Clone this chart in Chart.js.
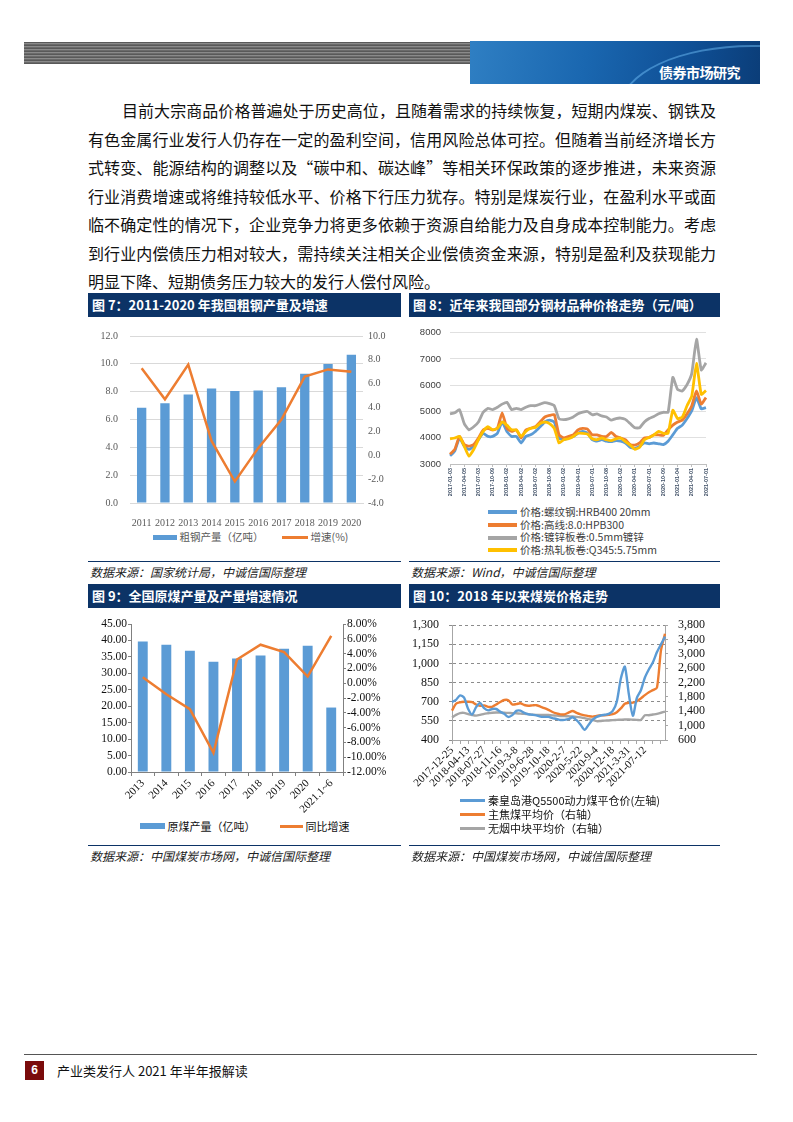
<!DOCTYPE html>
<html lang="zh-CN">
<head>
<meta charset="utf-8">
<title>产业类发行人2021年半年报解读</title>
<script src="https://cdn.jsdelivr.net/npm/chart.js@4.4.1/dist/chart.umd.min.js"></script>
<style>
  html, body { margin: 0; padding: 0; background: #fff; }
  body { width: 793px; height: 1122px; position: relative; overflow: hidden;
         font-family: "Noto Sans CJK SC", sans-serif; color: #000; }
  .abs { position: absolute; }

  /* 页眉 */
  .stripes { left: 24px; top: 42px; width: 447px; height: 22px;
    background: repeating-linear-gradient(to bottom, #595959 0, #595959 1px, #8a8a8a 1px, #8a8a8a 2px, #6a6a6a 2px, #6a6a6a 3px); }
  .banner { left: 470px; top: 41px; width: 290px; height: 43px; overflow: hidden;
    background: linear-gradient(100deg, #2f7fc3 0%, #1a67b0 40%, #0f4f95 75%, #0b3d78 100%); }
  .banner .arc { position: absolute; left: 150px; top: 4px; width: 260px; height: 120px;
    border-radius: 50%; border: 2px solid rgba(120, 200, 255, 0.45); }
  .banner .name { position: absolute; right: 20px; top: 22px; color: #fff; font-weight: bold;
    font-size: 14px; line-height: 18px; letter-spacing: -0.5px; }

  /* 正文 */
  .para { left: 88px; top: 96px; width: 628px; font-size: 16px; line-height: 28.5px; color: #111; }
  .para .ln { text-align: justify; text-align-last: justify; }
  .para .first { margin-left: 34px; }
  .para .last { text-align-last: left; }

  /* 图表面板 */
  .ttl { height: 24px; background: #0c3366; color: #fff; font-weight: bold; font-size: 13px;
    line-height: 24px; padding-left: 4px; box-sizing: border-box; white-space: nowrap; }
  .rule { height: 0; border-top: 1.5px solid #0c3366; }
  .src { font-size: 12px; line-height: 16px; font-style: italic; color: #222; padding-left: 2px; }
  .legend-row { display: flex; justify-content: center; align-items: center; font-size: 10.5px;
    line-height: 16px; white-space: nowrap; }
  .legend-row .item { display: flex; align-items: center; }
  .legend-col { font-size: 10.5px; white-space: nowrap; color: #404040; }
  .legend-col .item { display: flex; align-items: center; }
  .sw { display: inline-block; flex: none; }

  /* 页脚 */
  .footline { left: 24px; top: 1054px; width: 733px; border-top: 1px solid #555; }
  .pageno { left: 25px; top: 1061px; width: 19px; height: 19px; background: #7a0b0b; color: #fff;
    font-weight: bold; font-size: 12px; line-height: 19px; text-align: center; font-family: "Liberation Sans", sans-serif; }
  .foottxt { left: 57px; top: 1062px; font-size: 13px; line-height: 18px; color: #111; }
</style>
</head>
<body>

<div class="abs stripes"></div>
<div class="abs banner"><div class="arc"></div><div class="name">债券市场研究</div></div>

<div class="abs para">
  <div class="ln first">目前大宗商品价格普遍处于历史高位，且随着需求的持续恢复，短期内煤炭、钢铁及</div>
  <div class="ln">有色金属行业发行人仍存在一定的盈利空间，信用风险总体可控。但随着当前经济增长方</div>
  <div class="ln">式转变、能源结构的调整以及“碳中和、碳达峰”等相关环保政策的逐步推进，未来资源</div>
  <div class="ln">行业消费增速或将维持较低水平、价格下行压力犹存。特别是煤炭行业，在盈利水平或面</div>
  <div class="ln">临不确定性的情况下，企业竞争力将更多依赖于资源自给能力及自身成本控制能力。考虑</div>
  <div class="ln">到行业内偿债压力相对较大，需持续关注相关企业偿债资金来源，特别是盈利及获现能力</div>
  <div class="ln last">明显下降、短期债务压力较大的发行人偿付风险。</div>
</div>

<!-- 图7 -->
<div class="abs ttl" style="left:88px; top:293px; width:313px;">图 7：2011-2020 年我国粗钢产量及增速</div>
<div class="abs" style="left:88px; top:318px; width:313px; height:208px;"><canvas id="chart7"></canvas></div>
<div class="abs legend-row" id="legend7" style="left:88px; top:529px; width:313px; padding-left:12px; box-sizing:border-box; color:#595959;"></div>
<div class="abs rule" style="left:88px; top:561px; width:313px;"></div>
<div class="abs src" style="left:88px; top:564px;">数据来源：国家统计局，中诚信国际整理</div>

<!-- 图8 -->
<div class="abs ttl" style="left:409px; top:293px; width:311px;">图 8：近年来我国部分钢材品种价格走势（元/吨）</div>
<div class="abs" style="left:409px; top:318px; width:311px; height:185px;"><canvas id="chart8"></canvas></div>
<div class="abs legend-col" id="legend8" style="left:488px; top:506px; line-height:12.7px;"></div>
<div class="abs rule" style="left:409px; top:561px; width:311px;"></div>
<div class="abs src" style="left:409px; top:564px;">数据来源：Wind，中诚信国际整理</div>

<!-- 图9 -->
<div class="abs ttl" style="left:88px; top:584px; width:313px;">图 9：全国原煤产量及产量增速情况</div>
<div class="abs" style="left:88px; top:608px; width:313px; height:210px;"><canvas id="chart9"></canvas></div>
<div class="abs legend-row" id="legend9" style="left:88px; top:818px; width:313px; color:#111; font-size:11px;"></div>
<div class="abs rule" style="left:88px; top:845px; width:313px;"></div>
<div class="abs src" style="left:88px; top:848px;">数据来源：中国煤炭市场网，中诚信国际整理</div>

<!-- 图10 -->
<div class="abs ttl" style="left:409px; top:584px; width:311px;">图 10：2018 年以来煤炭价格走势</div>
<div class="abs" style="left:409px; top:608px; width:311px; height:190px;"><canvas id="chart10"></canvas></div>
<div class="abs legend-col" id="legend10" style="left:460px; top:793px; line-height:14px; color:#111; font-size:11px;"></div>
<div class="abs rule" style="left:409px; top:845px; width:311px;"></div>
<div class="abs src" style="left:409px; top:848px;">数据来源：中国煤炭市场网，中诚信国际整理</div>

<div class="abs footline"></div>
<div class="abs pageno">6</div>
<div class="abs foottxt">产业类发行人 2021 年半年报解读</div>

<script>
// ---- 图7 数据：粗钢产量及增速 ----
const steelYears = ['2011', '2012', '2013', '2014', '2015', '2016', '2017', '2018', '2019', '2020'];
const steelOutput = [6.85, 7.17, 7.79, 8.23, 8.04, 8.09, 8.32, 9.29, 9.98, 10.65];
const steelGrowth = [7.3, 4.7, 7.6, 1.2, -2.2, 0.6, 3.0, 6.6, 7.2, 7.0];

// ---- 图8 数据：钢材品种价格（月度，2017-01 至 2021-07）----
const steelTickLabels = ['2017-01-03', '2017-04-05', '2017-07-03', '2017-10-09', '2018-01-02', '2018-04-02',
  '2018-07-02', '2018-10-08', '2019-01-02', '2019-04-01', '2019-07-01', '2019-10-08', '2020-01-02',
  '2020-04-01', '2020-07-01', '2020-10-09', '2021-01-04', '2021-04-01', '2021-07-01'];
const rebarPrice = [
  3310, 3490, 3990, 3680, 3555, 3680, 3925, 4170, 4050, 4050, 4170, 4600,
  4240, 4050, 4050, 3800, 4050, 4110, 4240, 4420, 4600, 4670, 4600, 3990,
  3925, 3990, 4050, 4170, 4240, 4170, 3925, 3870, 3925, 3870, 3850, 3890,
  3870, 3800, 3640, 3590, 3680, 3800, 3770, 3800, 3770, 3740, 3870, 4110,
  4360, 4480, 4730, 5030, 5530, 5100, 5150];
const wireRodPrice = [
  3370, 3555, 4050, 3740, 3680, 3740, 3990, 4300, 4360, 4300, 4360, 4950,
  4360, 4240, 4300, 3990, 4300, 4360, 4420, 4600, 4790, 4850, 4880, 4110,
  3990, 4050, 4110, 4300, 4360, 4330, 4110, 4110, 4050, 4050, 4200, 4050,
  3990, 3925, 3740, 3720, 3800, 3990, 4010, 4110, 4110, 4090, 4300, 4480,
  4600, 4670, 4910, 5220, 5780, 5280, 5530];
const galvanizedPrice = [
  4910, 4950, 5070, 4540, 4300, 4420, 4600, 4970, 5120, 5070, 5160, 5280,
  5350, 5070, 5120, 5070, 5160, 5220, 5220, 5280, 5340, 5300, 5220, 4720,
  4690, 4720, 4790, 4910, 4975, 5000, 4875, 4910, 4830, 4790, 4670, 4730,
  4750, 4700, 4540, 4380, 4380, 4600, 4730, 4810, 4910, 4970, 4970, 6300,
  5840, 5780, 6020, 6450, 7750, 6580, 6850];
const hotRolledPrice = [
  3960, 3990, 4050, 3680, 3300, 3555, 3925, 4240, 4420, 4300, 4360, 4600,
  4480, 4300, 4300, 4050, 4240, 4360, 4390, 4540, 4600, 4540, 4360, 3800,
  3925, 3960, 4050, 4170, 4170, 4140, 3960, 3925, 3990, 3925, 3890, 3960,
  3990, 3850, 3720, 3560, 3640, 3925, 4010, 4110, 4240, 4170, 4170, 5050,
  4730, 4790, 5220, 5590, 6830, 5650, 5800];
const steelPriceNames = ['价格:螺纹钢:HRB400 20mm', '价格:高线:8.0:HPB300', '价格:镀锌板卷:0.5mm镀锌', '价格:热轧板卷:Q345:5.75mm'];

// ---- 图9 数据：原煤产量及增速 ----
const coalYears = ['2013', '2014', '2015', '2016', '2017', '2018', '2019', '2020', '2021.1~6'];
const coalOutput = [39.7, 38.7, 36.9, 33.5, 34.5, 35.4, 37.5, 38.4, 19.6];
const coalGrowth = [0.8, -1.5, -3.5, -9.4, 3.2, 5.2, 4.2, 0.9, 6.4];

// ---- 图10 数据：煤炭价格（约每4周一个点）----
const coalTickDates = ['2017-12-25', '2018-04-13', '2018-07-27', '2018-11-16', '2019-3-8', '2019-6-28',
  '2019-10-18', '2020-2-7', '2020-5-22', '2020-9-4', '2020-12-18', '2021-3-31', '2021-07-12'];
const qhdPrice = [
  697, 715, 750, 732, 645, 600, 658, 690, 650, 632, 643, 643, 622, 605, 581, 595, 628, 630,
  612, 602, 598, 593, 583, 581, 581, 572, 566, 557, 558, 563, 578, 555, 520, 480, 520, 560,
  581, 592, 598, 605, 628, 700, 880, 975, 760, 590, 730, 790, 890, 955, 1010, 1089, 1150, 1210];
const cokingCoalPrice = [
  1420, 1610, 1650, 1665, 1665, 1655, 1590, 1552, 1565, 1525, 1525, 1590, 1660, 1715, 1710, 1590, 1600, 1623,
  1575, 1555, 1565, 1570, 1530, 1490, 1440, 1380, 1340, 1314, 1314, 1365, 1410, 1358, 1315, 1285, 1265, 1252,
  1270, 1288, 1288, 1300, 1320, 1376, 1480, 1610, 1640, 1640, 1680, 1760, 1850, 1930, 1990, 2060, 3100, 3560];
const anthracitePrice = [
  1230, 1300, 1350, 1355, 1320, 1295, 1280, 1300, 1330, 1345, 1360, 1365, 1365, 1360, 1355, 1350, 1345, 1335,
  1330, 1320, 1305, 1300, 1300, 1300, 1295, 1285, 1280, 1270, 1265, 1260, 1255, 1245, 1230, 1210, 1180, 1160,
  1125, 1130, 1140, 1145, 1155, 1160, 1165, 1170, 1170, 1165, 1160, 1160, 1290, 1290, 1310, 1330, 1360, 1390];
const coalPriceNames = ['秦皇岛港Q5500动力煤平仓价(左轴)', '主焦煤平均价（右轴）', '无烟中块平均价（右轴）'];

// 颜色
const BLUE = '#5b9bd5', ORANGE = '#ed7d31', GRAY = '#a5a5a5', YELLOW = '#ffc000';
const SERIF = '"Liberation Serif", "Noto Sans CJK SC", serif';
const SANS = '"Liberation Sans", "Noto Sans CJK SC", sans-serif';

Chart.defaults.animation = false;
Chart.defaults.responsive = true;
Chart.defaults.maintainAspectRatio = false;
Chart.defaults.plugins.legend.display = false;
Chart.defaults.plugins.tooltip.enabled = false;

// 生成 HTML 图例
function buildLegend(id, items, gap) {
  const box = document.getElementById(id);
  items.forEach((it, i) => {
    const item = document.createElement('div');
    item.className = 'item';
    if (gap && i > 0) item.style.marginLeft = gap + 'px';
    const sw = document.createElement('span');
    sw.className = 'sw';
    sw.style.width = it.w + 'px';
    sw.style.height = it.h + 'px';
    sw.style.background = it.color;
    sw.style.marginRight = '3px';
    const tx = document.createElement('span');
    tx.textContent = it.text;
    item.appendChild(sw);
    item.appendChild(tx);
    box.appendChild(item);
  });
}

// ---------- 图7 ----------
new Chart(document.getElementById('chart7'), {
  data: {
    labels: steelYears,
    datasets: [
      { type: 'bar', label: '粗钢产量（亿吨）', data: steelOutput, backgroundColor: BLUE,
        yAxisID: 'y', barPercentage: 0.4, categoryPercentage: 1, order: 1 },
      { type: 'line', label: '增速(%)', data: steelGrowth, borderColor: ORANGE, borderWidth: 2.5,
        pointRadius: 0, yAxisID: 'y1', order: 0 }
    ]
  },
  options: {
    layout: { padding: { top: 14, left: 0, right: 0, bottom: 0 } },
    scales: {
      x: { offset: true, grid: { display: false }, border: { color: '#d9d9d9' },
        ticks: { font: { family: SERIF, size: 10 }, color: '#595959', padding: 6, maxRotation: 0, autoSkip: false },
        afterFit: s => { s.height = 23; } },
      y: { position: 'left', min: 0, max: 12,
        ticks: { stepSize: 2, autoSkip: false, callback: v => v.toFixed(1), padding: 12, font: { family: SERIF, size: 10 }, color: '#595959' },
        grid: { color: '#d9d9d9', drawTicks: false }, border: { display: false },
        afterFit: s => { s.width = 42; } },
      y1: { position: 'right', min: -4, max: 10,
        ticks: { stepSize: 2, autoSkip: false, callback: v => v.toFixed(1), padding: 5, font: { family: SERIF, size: 10 }, color: '#595959' },
        grid: { display: false, drawTicks: false }, border: { display: false },
        afterFit: s => { s.width = 38; } }
    }
  }
});
buildLegend('legend7', [
  { text: '粗钢产量（亿吨）', color: BLUE, w: 24, h: 5 },
  { text: '增速(%)', color: ORANGE, w: 26, h: 3 }
], 18);

// ---------- 图8 ----------
const steelMonths = [];
for (let y = 2017; y <= 2021; y++) {
  for (let m = 1; m <= 12; m++) {
    if (y === 2021 && m > 7) break;
    steelMonths.push(y + '-' + String(m).padStart(2, '0'));
  }
}
new Chart(document.getElementById('chart8'), {
  type: 'line',
  data: {
    labels: steelMonths,
    datasets: [
      { label: steelPriceNames[0], data: rebarPrice, borderColor: BLUE, order: 2 },
      { label: steelPriceNames[1], data: wireRodPrice, borderColor: ORANGE, order: 1 },
      { label: steelPriceNames[2], data: galvanizedPrice, borderColor: GRAY, order: 3 },
      { label: steelPriceNames[3], data: hotRolledPrice, borderColor: YELLOW, order: 0 }
    ].map(d => Object.assign(d, { borderWidth: 2.8, pointRadius: 0, tension: 0.15 }))
  },
  options: {
    layout: { padding: { top: 11, left: 0, right: 14, bottom: 0 } },
    scales: {
      x: { offset: false, border: { color: '#bfbfbf' },
        grid: { drawOnChartArea: false, tickLength: 3, color: c => (c.index % 3 === 0 ? '#bfbfbf' : 'transparent') },
        ticks: { autoSkip: false, minRotation: 90, maxRotation: 90, padding: 1,
          font: { family: SANS, size: 5.5, weight: 'bold' }, color: '#44546a',
          callback: (v, i) => (i % 3 === 0 ? steelTickLabels[i / 3] : '') },
        afterFit: s => { s.height = 39; } },
      y: { min: 3000, max: 8000,
        ticks: { stepSize: 1000, autoSkip: false, padding: 9, font: { family: SANS, size: 9.5 }, color: '#404040',
          callback: v => String(v) },
        grid: { color: '#e0e0e0', drawTicks: false }, border: { display: false },
        afterFit: s => { s.width = 41; } }
    }
  }
});
buildLegend('legend8', [
  { text: steelPriceNames[0], color: BLUE, w: 29, h: 4 },
  { text: steelPriceNames[1], color: ORANGE, w: 29, h: 4 },
  { text: steelPriceNames[2], color: GRAY, w: 29, h: 4 },
  { text: steelPriceNames[3], color: YELLOW, w: 29, h: 4 }
], 0);

// ---------- 图9 ----------
new Chart(document.getElementById('chart9'), {
  data: {
    labels: coalYears,
    datasets: [
      { type: 'bar', label: '原煤产量（亿吨）', data: coalOutput, backgroundColor: BLUE,
        yAxisID: 'y', barPercentage: 0.42, categoryPercentage: 1, order: 1 },
      { type: 'line', label: '同比增速', data: coalGrowth, borderColor: ORANGE, borderWidth: 2.5,
        pointRadius: 0, yAxisID: 'y1', order: 0 }
    ]
  },
  options: {
    layout: { padding: { top: 16, left: 0, right: 0, bottom: 0 } },
    scales: {
      x: { offset: true, border: { color: '#808080' },
        grid: { drawOnChartArea: false, offset: true, tickLength: 4, color: '#808080' },
        ticks: { autoSkip: false, minRotation: 45, maxRotation: 45, padding: 1,
          font: { family: SERIF, size: 11 }, color: '#111' },
        afterFit: s => { s.height = 46; } },
      y: { position: 'left', min: 0, max: 45,
        ticks: { stepSize: 5, autoSkip: false, callback: v => v.toFixed(2), padding: 1, font: { family: SERIF, size: 11.5 }, color: '#111' },
        grid: { drawOnChartArea: false, tickLength: 3, color: '#808080' }, border: { color: '#808080' },
        afterFit: s => { s.width = 43; } },
      y1: { position: 'right', min: -12, max: 8,
        ticks: { stepSize: 2, autoSkip: false, callback: v => v.toFixed(2) + '%', padding: 1, font: { family: SERIF, size: 11.5 }, color: '#111' },
        grid: { drawOnChartArea: false, tickLength: 3, color: '#808080' }, border: { color: '#808080' },
        afterFit: s => { s.width = 58; } }
    }
  }
});
buildLegend('legend9', [
  { text: '原煤产量（亿吨）', color: BLUE, w: 25, h: 6 },
  { text: '同比增速', color: ORANGE, w: 23, h: 3 }
], 24);

// ---------- 图10 ----------
const coalWeeks = qhdPrice.map((v, i) => (i % 4 === 0 && coalTickDates[i / 4]) ? coalTickDates[i / 4] : '');
new Chart(document.getElementById('chart10'), {
  type: 'line',
  data: {
    labels: coalWeeks,
    datasets: [
      { label: coalPriceNames[0], data: qhdPrice, borderColor: BLUE, yAxisID: 'y', order: 0 },
      { label: coalPriceNames[1], data: cokingCoalPrice, borderColor: ORANGE, yAxisID: 'y1', order: 1 },
      { label: coalPriceNames[2], data: anthracitePrice, borderColor: GRAY, yAxisID: 'y1', order: 2 }
    ].map(d => Object.assign(d, { borderWidth: 2.4, pointRadius: 0, tension: 0.25 }))
  },
  options: {
    layout: { padding: { top: 10, left: 0, right: 0, bottom: 0 } },
    scales: {
      x: { offset: false, border: { color: '#a6a6a6' },
        grid: { drawOnChartArea: false, tickLength: 4, color: c => (c.index % 2 === 0 ? '#a6a6a6' : 'transparent') },
        ticks: { autoSkip: false, minRotation: 45, maxRotation: 45, padding: 0,
          font: { family: SERIF, size: 11 }, color: '#111' },
        afterFit: s => { s.height = 58; } },
      y: { position: 'left', min: 400, max: 1300,
        ticks: { stepSize: 150, autoSkip: false, padding: 10, font: { family: SERIF, size: 12 }, color: '#111',
          callback: v => v.toLocaleString('en-US') },
        grid: { color: '#8c8c8c', tickLength: 3 }, border: { color: '#a6a6a6', dash: [3, 3] },
        afterFit: s => { s.width = 43; } },
      y1: { position: 'right', min: 600, max: 3800,
        ticks: { stepSize: 400, autoSkip: false, padding: 10, font: { family: SERIF, size: 12 }, color: '#111',
          callback: v => v.toLocaleString('en-US') },
        grid: { drawOnChartArea: false, tickLength: 3, color: '#a6a6a6' }, border: { color: '#a6a6a6' },
        afterFit: s => { s.width = 55; } }
    }
  }
});
buildLegend('legend10', [
  { text: coalPriceNames[0], color: BLUE, w: 25, h: 3 },
  { text: coalPriceNames[1], color: ORANGE, w: 25, h: 3 },
  { text: coalPriceNames[2], color: GRAY, w: 25, h: 3 }
], 0);
</script>
</body>
</html>
